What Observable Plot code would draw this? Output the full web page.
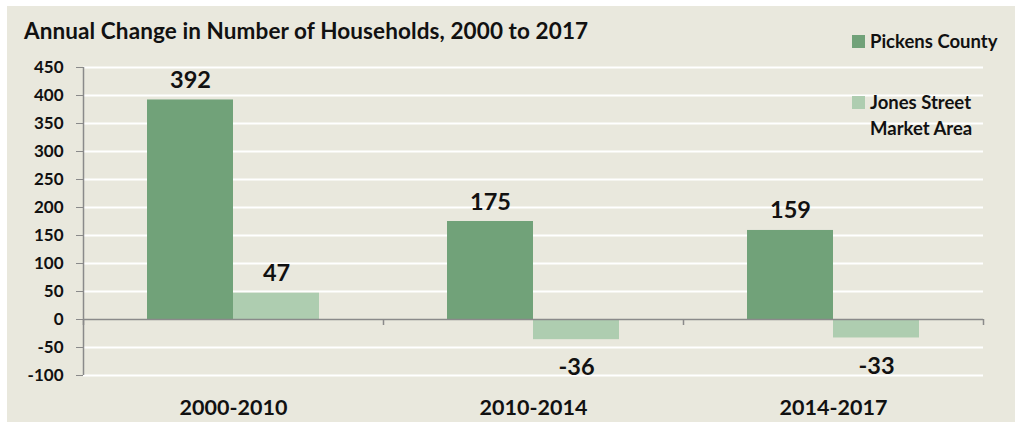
<!DOCTYPE html>
<html>
<head>
<meta charset="utf-8">
<script src="https://cdn.jsdelivr.net/npm/d3@7"></script>
<script src="https://cdn.jsdelivr.net/npm/@observablehq/plot@0.6"></script>
<style>
  html, body { margin: 0; padding: 0; background: #ffffff; }
  #wrap { position: relative; width: 1015px; height: 422px; overflow: hidden; font-family: Lato, "Open Sans", sans-serif; }
  #bg { position: absolute; left: 7px; top: 6px; right: 0; bottom: 0; background: #e9e8dd; }
  #chart { position: absolute; left: 0; top: 0; }
  #title { position: absolute; left: 24px; top: 17px; font-size: 22.5px; letter-spacing: 0.1px; font-weight: 700; color: #111; white-space: nowrap; }
  .leg { position: absolute; left: 852px; font-size: 18.5px; font-weight: 700; color: #111; line-height: 26px; }
  .leg .sw { position: absolute; left: 0; top: 7px; width: 13px; height: 13px; }
  .leg .lb { margin-left: 18px; display: block; white-space: nowrap; }
</style>
</head>
<body>
<div id="wrap">
  <div id="bg"></div>
  <div id="chart"></div>
  <div id="title"></div>
  <div id="legend"></div>
</div>
<script>
const title = "Annual Change in Number of Households, 2000 to 2017";
const periods = ["2000-2010", "2010-2014", "2014-2017"];
const seriesNames = ["Pickens County", "Jones Street Market Area"];
const legendLines = [["Pickens County"], ["Jones Street", "Market Area"]];
const pickensValues = [392, 175, 159];
const jonesValues = [47, -36, -33];
const yTicks = [-100, -50, 0, 50, 100, 150, 200, 250, 300, 350, 400, 450];
const colors = ["#71a279", "#aecdb0"];

const pickens = periods.map((p, i) => ({period: p, value: pickensValues[i], series: seriesNames[0]}));
const jones = periods.map((p, i) => ({period: p, value: jonesValues[i], series: seriesNames[1]}));

const labelFont = {fontSize: 23.5, fontWeight: 700, fill: "#111"};
const fmt = d => String(d.value);

function labels(data, dx) {
  return [
    Plot.text(data.filter(d => d.value >= 0), {x: "period", y: "value", text: fmt, dx, ...labelFont, lineAnchor: "bottom", dy: -12}),
    Plot.text(data.filter(d => d.value < 0), {x: "period", y: "value", text: fmt, dx, ...labelFont, lineAnchor: "top", dy: 19})
  ];
}

const chart = Plot.plot({
  width: 1015,
  height: 422,
  marginLeft: 83,
  marginRight: 32,
  marginTop: 67,
  marginBottom: 47,
  style: {background: "transparent", fontFamily: "Lato, 'Open Sans', sans-serif", fontSize: "17px", fontWeight: 700, color: "#111"},
  x: {type: "band", domain: periods, padding: 0, axis: null},
  y: {domain: [-100, 450], axis: null},
  marks: [
    Plot.ruleY(yTicks.filter(t => t !== 0), {stroke: "#ffffff", strokeWidth: 2}),
    Plot.barY(pickens, {x: "period", y: "value", fill: colors[0], insetLeft: 64, insetRight: 150}),
    Plot.barY(jones, {x: "period", y: "value", fill: colors[1], insetLeft: 150, insetRight: 64}),
    Plot.ruleY([0], {stroke: "#8a8a8a", strokeWidth: 1.5}),
    Plot.ruleX([periods[0]], {y1: -100, y2: 450, dx: -150, stroke: "#8a8a8a", strokeWidth: 1.5}),
    Plot.ruleX([periods[0]], {y1: 0, y2: 0, insetBottom: -6, dx: -150, stroke: "#8a8a8a", strokeWidth: 1.5}),
    Plot.ruleX(periods, {y1: 0, y2: 0, insetBottom: -6, dx: 150, stroke: "#8a8a8a", strokeWidth: 1.5}),
    Plot.axisY({ticks: yTicks, tickSize: 7, tickPadding: 13, stroke: "#8a8a8a", tickFormat: d => String(d), label: null, fontSize: 17, fontWeight: 700, fill: "#111"}),
    Plot.axisX({tickSize: 0, tickPadding: 24, label: null, fontSize: 21.5, fontWeight: 700, fill: "#111"}),
    ...labels(pickens, -43),
    ...labels(jones, 43)
  ]
});
document.getElementById("chart").appendChild(chart);
document.getElementById("title").textContent = title;

const legTops = [28, 89];
const legend = document.getElementById("legend");
seriesNames.forEach((name, i) => {
  const item = document.createElement("div");
  item.className = "leg";
  item.style.top = legTops[i] + "px";
  item.title = name;
  const sw = document.createElement("span");
  sw.className = "sw";
  sw.style.background = colors[i];
  item.appendChild(sw);
  legendLines[i].forEach(line => {
    const lb = document.createElement("span");
    lb.className = "lb";
    lb.textContent = line;
    item.appendChild(lb);
  });
  legend.appendChild(item);
});
</script>
</body>
</html>
